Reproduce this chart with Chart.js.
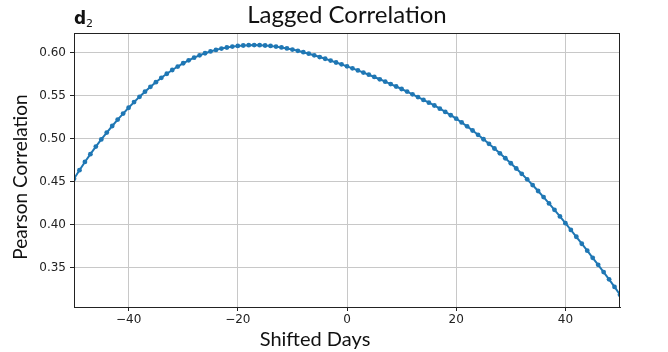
<!DOCTYPE html>
<html>
<head>
<meta charset="utf-8">
<script src="https://cdn.jsdelivr.net/npm/chart.js@4"></script>
<style>
  body { margin: 0; background: #fff; }
  canvas { display: block; }
</style>
</head>
<body>
<canvas id="lagChart" width="668" height="352"></canvas>
<script>
// shift in days, -50 .. 50
const shiftDays = [];
for (let d = -50; d <= 50; d++) shiftDays.push(d);

// pearson r at each shift
const pearsonR = [
  0.4535, 0.4634, 0.4730, 0.4820, 0.4908, 0.4991, 0.5071, 0.5147, 0.5221, 0.5291,
  0.5359, 0.5424, 0.5486, 0.5545, 0.5602, 0.5655, 0.5706, 0.5753, 0.5797, 0.5837,
  0.5875, 0.5909, 0.5940, 0.5967, 0.5991, 0.6012, 0.6030, 0.6045, 0.6058, 0.6068,
  0.6076, 0.6081, 0.6085, 0.6086, 0.6085, 0.6081, 0.6076, 0.6068, 0.6059, 0.6047,
  0.6034, 0.6019, 0.6003, 0.5986, 0.5967, 0.5947, 0.5927, 0.5906, 0.5884, 0.5862,
  0.5839, 0.5816, 0.5792, 0.5767, 0.5742, 0.5716, 0.5689, 0.5661, 0.5633, 0.5605,
  0.5576, 0.5546, 0.5515, 0.5483, 0.5450, 0.5418, 0.5385, 0.5348, 0.5310, 0.5272,
  0.5232, 0.5188, 0.5143, 0.5095, 0.5045, 0.4993, 0.4940, 0.4886, 0.4830, 0.4773,
  0.4715, 0.4654, 0.4592, 0.4528, 0.4462, 0.4393, 0.4322, 0.4249, 0.4175, 0.4098,
  0.4020, 0.3941, 0.3862, 0.3781, 0.3700, 0.3618, 0.3536, 0.3452, 0.3368, 0.3280,
  0.3190
];

const xTicks = [-40, -20, 0, 20, 40];
const yTicks = [0.35, 0.40, 0.45, 0.50, 0.55, 0.60];

const BLUE = '#1f77b4';
const tickFont = { family: 'DejaVu Sans', size: 12 };

// frame + titles drawn straight on the canvas
const decorations = {
  id: 'decorations',
  afterDraw(chart) {
    const { ctx, chartArea: a } = chart;
    ctx.save();
    ctx.strokeStyle = '#222';
    ctx.lineWidth = 1;
    ctx.strokeRect(a.left + 0.5, a.top + 0.5, a.right - a.left - 1, a.bottom - a.top);

    ctx.fillStyle = '#111';
    ctx.textAlign = 'center';
    ctx.textBaseline = 'alphabetic';
    ctx.font = '24px Lato';
    ctx.fillText('Lagged Correlation', 347, 23);

    ctx.font = '20px Lato';
    ctx.fillText('Shifted Days', 315, 346);

    ctx.save();
    ctx.font = '19px Lato';
    ctx.translate(27, 177);
    ctx.rotate(-Math.PI / 2);
    ctx.fillText('Pearson Correlation', 0, 0);
    ctx.restore();

    // panel tag
    ctx.textAlign = 'left';
    ctx.font = 'bold 17px "DejaVu Sans"';
    ctx.fillText('d', 74, 24);
    ctx.font = '11px "DejaVu Sans"';
    ctx.fillText('2', 86, 27);
    ctx.restore();
  }
};

new Chart(document.getElementById('lagChart'), {
  type: 'line',
  data: {
    datasets: [{
      data: shiftDays.map((d, i) => ({ x: d, y: pearsonR[i] })),
      borderColor: BLUE,
      backgroundColor: BLUE,
      borderWidth: 2,
      pointRadius: 2.4,
      pointBorderWidth: 0,
      tension: 0
    }]
  },
  options: {
    responsive: false,
    animation: false,
    layout: { padding: { left: 0, top: 33, right: 48, bottom: 0 } },
    plugins: { legend: { display: false }, tooltip: { enabled: false } },
    scales: {
      x: {
        type: 'linear',
        min: -50,
        max: 50,
        afterBuildTicks: s => { s.ticks = xTicks.map(v => ({ value: v })); },
        afterFit: s => { s.height = 45; },
        ticks: { font: tickFont, color: '#222', padding: 2, callback: v => String(v).replace('-', '\u2212') },
        grid: { color: '#c8c8c8', lineWidth: 1, tickLength: 4, tickColor: '#222' },
        border: { display: true, color: '#222', width: 1 }
      },
      y: {
        type: 'linear',
        min: 0.3047,
        max: 0.6226,
        afterBuildTicks: s => { s.ticks = yTicks.map(v => ({ value: v })); },
        afterFit: s => { s.width = 74; },
        ticks: { font: tickFont, color: '#222', padding: 4, callback: v => v.toFixed(2) },
        grid: { color: '#c8c8c8', lineWidth: 1, tickLength: 4, tickColor: '#222' },
        border: { display: true, color: '#222', width: 1 }
      }
    }
  },
  plugins: [decorations]
});
</script>
</body>
</html>
